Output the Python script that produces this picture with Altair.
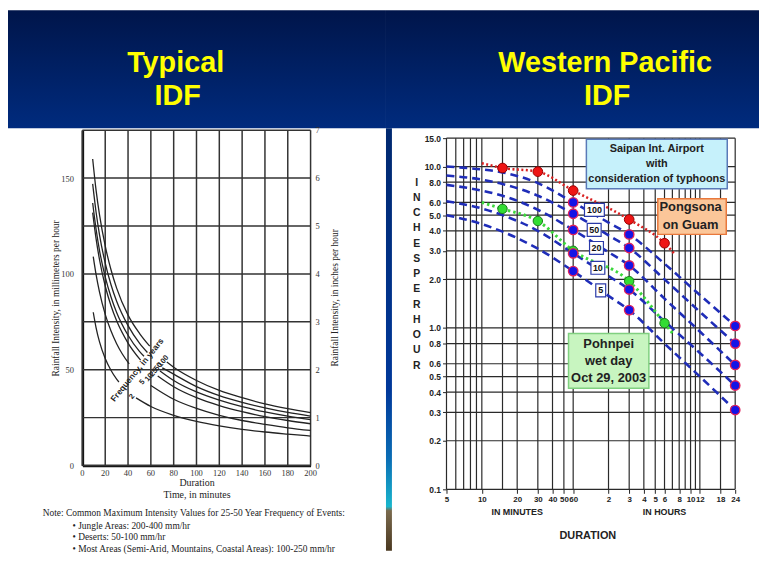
import altair as alt
import pandas as pd

# ================= LEFT PANEL: Typical IDF (linear axes) =================
left_grid_minutes = [0, 20, 40, 60, 80, 100, 120, 140, 160, 180, 200]
left_grid_mm = [0, 25, 50, 75, 100, 125, 150, 175]
left_label_mm = [0, 50, 100, 150]
inch_labels = ["0", "1", "2", "3", "4", "5", "6", "7"]
inch_label_mm = [0, 25, 50, 75, 100, 125, 150, 175]

# frequency curves: duration (min) / intensity (mm/hr); each broken where the label sits
f100_a_t = [9, 12, 15, 20, 25, 30, 40, 50, 59]
f100_a_mm = [160, 143.6, 130.8, 114.6, 102.3, 92.6, 78.5, 69.0, 62.3]
f100_b_t = [74, 80, 100, 120, 140, 160, 180, 200]
f100_b_mm = [54.0, 51.3, 44.4, 39.2, 35.4, 32.2, 29.7, 27.6]

f50_a_t = [9, 12, 15, 20, 25, 30, 40, 50, 57]
f50_a_mm = [147, 132.2, 120.4, 105.6, 94.5, 85.7, 73.0, 63.9, 59.0]
f50_b_t = [70, 80, 100, 120, 140, 160, 180, 200]
f50_b_mm = [51.0, 47.7, 41.2, 36.5, 33.0, 30.1, 27.7, 25.8]

f25_a_t = [9, 12, 15, 20, 25, 30, 40, 50, 54]
f25_a_mm = [137, 123.3, 112.2, 98.5, 88.1, 79.9, 68.0, 59.6, 57.0]
f25_b_t = [68, 80, 100, 120, 140, 160, 180, 200]
f25_b_mm = [49.4, 44.4, 38.4, 34.1, 30.7, 28.0, 25.8, 24.0]

f10_a_t = [9, 12, 15, 20, 25, 30, 40, 51]
f10_a_mm = [132, 118.3, 107.4, 93.7, 83.5, 75.5, 63.9, 55.0]
f10_b_t = [66, 80, 100, 120, 140, 160, 180, 200]
f10_b_mm = [46.7, 41.1, 35.4, 31.3, 28.1, 25.5, 23.5, 21.8]

f5_a_t = [9.5, 12, 15, 20, 25, 30, 35, 41]
f5_a_mm = [109, 99.6, 90.5, 78.9, 70.3, 63.6, 58.2, 53.0]
f5_b_t = [60, 80, 100, 120, 140, 160, 180, 200]
f5_b_mm = [41.8, 34.6, 29.8, 26.2, 23.5, 21.5, 19.7, 18.3]

f2_a_t = [9.5, 12, 15, 20, 25, 30, 32]
f2_a_mm = [80, 71.9, 64.5, 55.8, 49.7, 45.1, 43.6]
f2_b_t = [47, 60, 80, 100, 120, 140, 160, 180, 200]
f2_b_mm = [35.3, 30.8, 26.2, 23.0, 20.7, 18.9, 17.5, 16.4, 15.4]

freq_names = ["100", "50", "25", "10", "5", "2"]
freq_label_t = [71, 66.5, 62.5, 58.5, 52.5, 43.5]
freq_label_mm = [54.5, 51.5, 48.5, 46.0, 43.5, 36.0]

note_lines = [
    "Note: Common Maximum Intensity Values for 25-50 Year Frequency of Events:",
    "\u2022 Jungle Areas: 200-400 mm/hr",
    "\u2022 Deserts: 50-100 mm/hr",
    "\u2022 Most Areas (Semi-Arid, Mountains, Coastal Areas): 100-250 mm/hr",
]

# ================= RIGHT PANEL: Western Pacific IDF (log-log) =================
right_grid_minutes = [5, 6, 7, 8, 9, 10, 15, 20, 30, 40, 50, 60, 120, 180, 240, 300,
                      360, 420, 480, 540, 600, 660, 720, 1080, 1440]
right_grid_inch = [0.1, 0.2, 0.3, 0.4, 0.5, 0.6, 0.8, 1, 2, 3, 4, 5, 6, 8, 10, 15]
right_tick_minutes = [5, 10, 20, 30, 40, 50, 60, 120, 180, 240, 300, 360, 480, 600,
                      720, 1080, 1440]

durations = [5, 10, 15, 30, 60, 120, 180, 360, 720, 1440]
rp100 = [10.0, 9.6, 9.2, 7.9, 6.0, 4.5, 3.8, 2.5, 1.6, 1.03]
rp50 = [8.8, 8.3, 7.8, 6.6, 5.1, 3.75, 3.13, 2.0, 1.26, 0.80]
rp20 = [7.7, 7.1, 6.6, 5.4, 4.05, 2.95, 2.44, 1.52, 0.95, 0.59]
rp10 = [6.1, 5.5, 5.0, 4.0, 2.9, 2.1, 1.73, 1.1, 0.70, 0.44]
rp5 = [5.0, 4.4, 3.95, 3.1, 2.25, 1.58, 1.29, 0.80, 0.50, 0.31]
rp_names = ["100", "50", "20", "10", "5"]
rp_marker_minutes = [60, 180, 1440]

rp_label_t = [91, 90.6, 94.8, 97.4, 103]
rp_label_v = [5.39, 4.05, 3.13, 2.36, 1.71]

saipan_line_t = [10, 15, 30, 60, 180, 360, 440]
saipan_line_v = [10.5, 9.8, 9.3, 7.1, 4.7, 3.35, 2.87]
saipan_obs_t = [15, 30, 60, 180, 360]
saipan_obs_v = [9.8, 9.3, 7.1, 4.7, 3.35]

pohnpei_line_t = [10, 15, 30, 60, 180, 360, 420]
pohnpei_line_v = [6.0, 5.47, 4.6, 3.01, 1.95, 1.07, 0.93]
pohnpei_obs_t = [15, 30, 60, 180, 360]
pohnpei_obs_v = [5.47, 4.6, 3.01, 1.95, 1.07]

sub_labels = ["IN MINUTES", "IN HOURS"]
sub_label_t = [20, 360]

# ----------------------------------------------------------------------------
W_L, H_L = 230, 338
W_R, H_R = 291, 362
SERIF = "Liberation Serif"
SANS = "Liberation Sans"
NB = "\u00a0"

one = pd.DataFrame({"k": [0]})

header_fill = alt.LinearGradient(
    gradient="linear",
    stops=[alt.GradientStop(color="#00154a", offset=0),
           alt.GradientStop(color="#002b7e", offset=1)],
    x1=0, x2=0, y1=0, y2=1)
strip_fill = alt.LinearGradient(
    gradient="linear",
    stops=[alt.GradientStop(color="#00286f", offset=0),
           alt.GradientStop(color="#00389a", offset=0.62),
           alt.GradientStop(color="#0a6cb4", offset=0.78),
           alt.GradientStop(color="#19b6cc", offset=0.895),
           alt.GradientStop(color="#7a6a4e", offset=0.905),
           alt.GradientStop(color="#4a3820", offset=1)],
    x1=0, x2=0, y1=0, y2=1)

xs_l = alt.Scale(domain=[0, 200], nice=False, zero=False)
ys_l = alt.Scale(domain=[0, 175], nice=False)
xs_r = alt.Scale(type="log", domain=[5, 1440], nice=False)
ys_r = alt.Scale(type="log", domain=[0.1, 16.8], nice=False)

# identical explicit axes for every left layer (no implicit axis defaults get merged in)
x_axis_l = alt.Axis(
    values=left_grid_minutes, grid=False, labels=False, ticks=False,
    domain=True, domainColor="#111", domainWidth=2.5,
    title=["Duration", "Time, in minutes"], titleFont=SERIF, titleFontSize=10,
    titleFontWeight="normal", titleColor="#222",
    titleX=115, titleY=17, titleBaseline="middle")
y_axis_l = alt.Axis(
    values=left_label_mm, grid=False, ticks=False, labelPadding=9,
    labelFont=SERIF, labelFontSize=8.5, labelColor="#333",
    labelOverlap=False, domain=True, domainColor="#111", domainWidth=2.5,
    title="Rainfall Intensity, in millimeters per hour", titleFont=SERIF,
    titleFontSize=9.5, titleFontWeight="normal", titleColor="#222",
    titleAngle=270, titleX=-27, titleY=169, titleBaseline="middle",
    titleAlign="center")

def XL(field="t:Q"):
    return alt.X(field, scale=xs_l, axis=x_axis_l)

def YL(field="mm:Q"):
    return alt.Y(field, scale=ys_l, axis=y_axis_l)

# ---------------- left panel layers ----------------
curve_rows = []
for name, segs in [
    ("100", [(f100_a_t, f100_a_mm), (f100_b_t, f100_b_mm)]),
    ("50", [(f50_a_t, f50_a_mm), (f50_b_t, f50_b_mm)]),
    ("25", [(f25_a_t, f25_a_mm), (f25_b_t, f25_b_mm)]),
    ("10", [(f10_a_t, f10_a_mm), (f10_b_t, f10_b_mm)]),
    ("5", [(f5_a_t, f5_a_mm), (f5_b_t, f5_b_mm)]),
    ("2", [(f2_a_t, f2_a_mm), (f2_b_t, f2_b_mm)]),
]:
    for si, (ts, ms) in enumerate(segs):
        for t, m in zip(ts, ms):
            curve_rows.append({"freq": name, "seg": f"{name}-{si}", "t": t, "mm": m})
curves_df = pd.DataFrame(curve_rows)

# horizontal grid lines as two-point lines spanning the duration range
hline_rows = []
for m in left_grid_mm:
    for t in (left_grid_minutes[0], left_grid_minutes[-1]):
        hline_rows.append({"g": f"h{m}", "t": t, "mm": m})
hline_df = pd.DataFrame(hline_rows)

header_l = alt.Chart(one).mark_rect(fill=header_fill).encode(
    x=alt.value(-75), x2=alt.value(306), y=alt.value(-121), y2=alt.value(-2))

title_l1 = alt.Chart(one).mark_text(
    text="Typical", font=SANS, fontSize=29, fontWeight="bold", color="#ffff00",
    align="center", baseline="alphabetic").encode(x=alt.value(94), y=alt.value(-59))
title_l2 = alt.Chart(one).mark_text(
    text="IDF", font=SANS, fontSize=29, fontWeight="bold", color="#ffff00",
    align="center", baseline="alphabetic").encode(x=alt.value(96), y=alt.value(-25))

vgrid_l = alt.Chart(pd.DataFrame({"t": left_grid_minutes})).mark_rule(
    color="#333333", strokeWidth=1.5).encode(
    x=XL(), y=alt.value(0), y2=alt.value(H_L))

hgrid_l = alt.Chart(hline_df).mark_line(
    color="#333333", strokeWidth=1.5).encode(
    x=XL(), y=YL(), detail="g:N")

xlab_df = pd.DataFrame({"t": left_grid_minutes,
                        "label": [str(v) for v in left_grid_minutes]})
xlabels_l = alt.Chart(xlab_df).mark_text(
    font=SERIF, fontSize=8.5, color="#333", align="center", baseline="middle").encode(
    x=XL(), y=alt.value(H_L + 8), text="label:N")

curves_l = alt.Chart(curves_df).mark_line(
    color="#232323", strokeWidth=1.3, interpolate="monotone").encode(
    x=XL(), y=YL(), detail="seg:N")

freq_df = pd.DataFrame({"label": freq_names, "t": freq_label_t, "mm": freq_label_mm})
freq_text_l = alt.Chart(freq_df).mark_text(
    font=SANS, fontSize=7.5, fontWeight="bold", color="#222", angle=309,
    align="center", baseline="middle").encode(
    x=XL(), y=YL(), text="label:N")

freq_title_l = alt.Chart(one).mark_text(
    text="Frequency, in years", font=SANS, fontSize=8.5, fontWeight="bold",
    color="#222", angle=309, align="center", baseline="middle").encode(
    x=alt.value(55), y=alt.value(241.5))

inch_df = pd.DataFrame({"label": inch_labels, "mm": inch_label_mm})
inch_text = alt.Chart(inch_df).mark_text(
    font=SERIF, fontSize=8.5, color="#333", align="left", baseline="middle").encode(
    x=alt.value(W_L + 5), y=YL(), text="label:N")
inch_title = alt.Chart(one).mark_text(
    text="Rainfall Intensity, in inches per hour", font=SERIF, fontSize=9.5,
    color="#222", angle=270, align="center", baseline="middle").encode(
    x=alt.value(W_L + 25), y=alt.value(169))

note_layers = []
for i, (xv, yv) in enumerate([(-40, 385.5), (-10, 398.5), (-10, 410.5), (-10, 422)]):
    note_layers.append(alt.Chart(one).mark_text(
        text=note_lines[i], font=SERIF, fontSize=9.5, color="#222",
        align="left", baseline="middle").encode(x=alt.value(xv), y=alt.value(yv)))

left = alt.layer(header_l, title_l1, title_l2, vgrid_l, hgrid_l, curves_l, xlabels_l,
                 freq_text_l, freq_title_l, inch_text, inch_title,
                 *note_layers).properties(width=W_L, height=H_L)

# ---------------- right panel layers ----------------
header_r = alt.Chart(one).mark_rect(fill=header_fill).encode(
    x=alt.value(-61), x2=alt.value(315), y=alt.value(-121), y2=alt.value(-2))
strip_r = alt.Chart(one).mark_rect(fill=strip_fill).encode(
    x=alt.value(-61), x2=alt.value(-55), y=alt.value(-2), y2=alt.value(424))

title_r1 = alt.Chart(one).mark_text(
    text="Western Pacific", font=SANS, fontSize=29, fontWeight="bold",
    color="#ffff00", align="center", baseline="alphabetic").encode(
    x=alt.value(160), y=alt.value(-59))
title_r2 = alt.Chart(one).mark_text(
    text="IDF", font=SANS, fontSize=29, fontWeight="bold", color="#ffff00",
    align="center", baseline="alphabetic").encode(x=alt.value(162), y=alt.value(-25))

vgrid_r = alt.Chart(pd.DataFrame({"t": right_grid_minutes})).mark_rule(
    color="#2a2a2a", strokeWidth=1.2).encode(
    x=alt.X("t:Q", scale=xs_r, axis=alt.Axis(
        values=right_tick_minutes,
        labelExpr="datum.value >= 120 ? '' + (datum.value / 60) : '' + datum.value",
        grid=False, tickSize=4, tickColor="#222", labelPadding=2,
        labelFont=SANS, labelFontSize=8, labelFontWeight="bold", labelColor="#222",
        labelFlush=False, labelOverlap=False, labelBound=False, domain=False,
        title="DURATION", titleFont=SANS, titleFontSize=11, titleFontWeight="bold",
        titleColor="#222", titleX=142, titleY=47, titleBaseline="middle")),
    y=alt.YDatum(15), y2=alt.Y2Datum(0.1))

hgrid_r = alt.Chart(pd.DataFrame({"v": right_grid_inch})).mark_rule(
    color="#2a2a2a", strokeWidth=1.2).encode(
    y=alt.Y("v:Q", scale=ys_r, axis=alt.Axis(
        values=right_grid_inch, format=".1f", grid=False, tickSize=4,
        tickColor="#222", labelPadding=2, labelFont=SANS, labelFontSize=8.5,
        labelFontWeight="bold", labelColor="#222", labelOverlap=False,
        domain=False, title=None)))

ytitle_r = alt.Chart(one).mark_text(
    text=["I", "N", "C", "H", "E", "S", NB, "P", "E", "R", NB, "H", "O", "U", "R"],
    font=SANS, fontSize=10.5, fontWeight="bold", color="#222", align="center",
    baseline="middle", lineHeight=15.36).encode(x=alt.value(-30), y=alt.value(53))

rp_rows = []
for name, vals in zip(rp_names, [rp100, rp50, rp20, rp10, rp5]):
    for t, v in zip(durations, vals):
        rp_rows.append({"rp": name, "t": t, "v": v})
rp_df = pd.DataFrame(rp_rows)

blue_lines = alt.Chart(rp_df).mark_line(
    color="#1f2db8", strokeWidth=2.6, strokeDash=[8, 5], interpolate="monotone").encode(
    x=alt.X("t:Q", scale=xs_r),
    y=alt.Y("v:Q", scale=ys_r),
    detail="rp:N")

saipan_line_df = pd.DataFrame({"t": saipan_line_t, "v": saipan_line_v})
pohnpei_line_df = pd.DataFrame({"t": pohnpei_line_t, "v": pohnpei_line_v})
saipan_obs_df = pd.DataFrame({"t": saipan_obs_t, "v": saipan_obs_v})
pohnpei_obs_df = pd.DataFrame({"t": pohnpei_obs_t, "v": pohnpei_obs_v})

red_line = alt.Chart(saipan_line_df).mark_line(
    color="#d92020", strokeWidth=2.6, strokeDash=[2, 2.5], interpolate="monotone").encode(
    x=alt.X("t:Q", scale=xs_r), y=alt.Y("v:Q", scale=ys_r))
green_line = alt.Chart(pohnpei_line_df).mark_line(
    color="#3cd83c", strokeWidth=3, strokeDash=[2.5, 3], interpolate="monotone").encode(
    x=alt.X("t:Q", scale=xs_r), y=alt.Y("v:Q", scale=ys_r))

green_pts = alt.Chart(pohnpei_obs_df).mark_circle(
    size=90, color="#33dd33", stroke="#1a7a1a", strokeWidth=1, opacity=1).encode(
    x=alt.X("t:Q", scale=xs_r), y=alt.Y("v:Q", scale=ys_r))
red_pts = alt.Chart(saipan_obs_df).mark_circle(
    size=95, color="#ee1515", stroke="#990000", strokeWidth=1, opacity=1).encode(
    x=alt.X("t:Q", scale=xs_r), y=alt.Y("v:Q", scale=ys_r))
blue_pts = alt.Chart(rp_df).transform_filter(
    alt.FieldOneOfPredicate(field="t", oneOf=rp_marker_minutes)).mark_circle(
    size=90, color="#1414e6", stroke="#e0205a", strokeWidth=1.4, opacity=1).encode(
    x=alt.X("t:Q", scale=xs_r), y=alt.Y("v:Q", scale=ys_r))

rp_lab_df = pd.DataFrame({"label": rp_names, "t": rp_label_t, "v": rp_label_v})
box_specs = [(3, "M-1,-0.65L1,-0.65L1,0.65L-1,0.65Z", 400),
             (2, "M-1,-0.93L1,-0.93L1,0.93L-1,0.93Z", 196),
             (1, "M-1,-1.3L1,-1.3L1,1.3L-1,1.3Z", 100)]
rp_boxes = []
for n, path, sz in box_specs:
    rp_boxes.append(alt.Chart(rp_lab_df).transform_filter(
        f"length(datum.label) == {n}").mark_point(
        shape=path, size=sz, filled=True, fill="white", stroke="#2a3aa8",
        strokeWidth=1.2, opacity=1).encode(
        x=alt.X("t:Q", scale=xs_r), y=alt.Y("v:Q", scale=ys_r)))
rp_text = alt.Chart(rp_lab_df).mark_text(
    font=SANS, fontSize=9, fontWeight="bold", color="#111", align="center",
    baseline="middle").encode(
    x=alt.X("t:Q", scale=xs_r), y=alt.Y("v:Q", scale=ys_r),
    text="label:N")

saipan_box = alt.Chart(one).mark_rect(
    fill="#c6f1fb", stroke="#5a7ab8", strokeWidth=1.5).encode(
    x=alt.value(141), x2=alt.value(283), y=alt.value(9), y2=alt.value(59))
saipan_txt = alt.Chart(one).mark_text(
    text=["Saipan Int. Airport", "with", "consideration of typhoons"],
    font=SANS, fontSize=11, fontWeight="bold", color="#222", align="center",
    baseline="middle", lineHeight=15.3).encode(x=alt.value(212), y=alt.value(18.7))

pong_box = alt.Chart(one).mark_rect(
    fill="#fbc699", stroke="#e8783c", strokeWidth=1.5).encode(
    x=alt.value(213), x2=alt.value(282), y=alt.value(69), y2=alt.value(105))
pong_txt = alt.Chart(one).mark_text(
    text=["Pongsona", "on Guam"], font=SANS, fontSize=13, fontWeight="bold",
    color="#222", align="center", baseline="middle", lineHeight=17.6).encode(
    x=alt.value(246), y=alt.value(77.7))

pohn_box = alt.Chart(one).mark_rect(
    fill="#c8f5c0", stroke="#80d080", strokeWidth=1.5).encode(
    x=alt.value(123), x2=alt.value(204), y=alt.value(205), y2=alt.value(260))
pohn_txt = alt.Chart(one).mark_text(
    text=["Pohnpei", "wet day", "Oct 29, 2003"], font=SANS, fontSize=13,
    fontWeight="bold", color="#222", align="center", baseline="middle",
    lineHeight=17.35).encode(x=alt.value(163.5), y=alt.value(215.3))

sub_df = pd.DataFrame({"label": sub_labels, "t": sub_label_t})
sub_txt = alt.Chart(sub_df).mark_text(
    font=SANS, fontSize=9, fontWeight="bold", color="#222", align="center",
    baseline="middle").encode(
    x=alt.X("t:Q", scale=xs_r), y=alt.value(H_R + 23), text="label:N")

right = alt.layer(
    header_r, strip_r, title_r1, title_r2, vgrid_r, hgrid_r, ytitle_r, blue_lines,
    red_line, green_line, green_pts, red_pts, blue_pts, *rp_boxes, rp_text,
    saipan_box, saipan_txt, pong_box, pong_txt, pohn_box, pohn_txt, sub_txt
).properties(width=W_R, height=H_R)

chart = alt.hconcat(left, right, spacing=0, padding=0).configure(
    background="white", font=SANS).configure_view(strokeWidth=0)

chart.save("out.html", embed_options={"renderer": "svg", "actions": False})
